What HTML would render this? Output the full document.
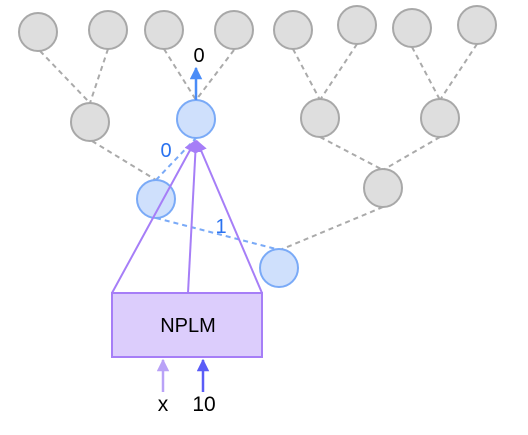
<!DOCTYPE html>
<html><head><style>body{margin:0;background:#fff}</style></head><body>
<svg width="528" height="430" xmlns="http://www.w3.org/2000/svg" font-family="Liberation Sans, sans-serif">
<defs>
<marker id="ab" viewBox="0 0 10 10" refX="9" refY="5" markerWidth="5" markerHeight="5" orient="auto"><path d="M0,0L10,5L0,10z" fill="#4a8cf7"/></marker>
<marker id="ap" viewBox="0 0 10 10" refX="9" refY="5" markerWidth="6" markerHeight="6" orient="auto"><path d="M0,0L10,5L0,10z" fill="#a67ef7"/></marker>
<marker id="al" viewBox="0 0 10 10" refX="9" refY="5" markerWidth="5" markerHeight="5" orient="auto"><path d="M0,0L10,5L0,10z" fill="#b9a2f7"/></marker>
<marker id="ad" viewBox="0 0 10 10" refX="9" refY="5" markerWidth="5" markerHeight="5" orient="auto"><path d="M0,0L10,5L0,10z" fill="#5a5cf7"/></marker>
</defs>
<g stroke="#aaa" stroke-width="2" stroke-dasharray="5,4" fill="none">
<line x1="40" y1="51" x2="90" y2="103"/><line x1="108" y1="49" x2="90" y2="103"/>
<line x1="164" y1="49" x2="196" y2="100"/><line x1="234" y1="50" x2="196" y2="100"/>
<line x1="293" y1="49" x2="320" y2="100"/><line x1="357" y1="44" x2="320" y2="100"/>
<line x1="412" y1="47" x2="440" y2="100"/><line x1="477" y1="44" x2="440" y2="100"/>
<line x1="92" y1="141" x2="156" y2="180"/>
<line x1="320" y1="137" x2="383" y2="170"/><line x1="440" y1="137" x2="383" y2="170"/>
<line x1="383" y1="207" x2="280" y2="250"/>
</g>
<g stroke="#7aaaf7" stroke-width="2" stroke-dasharray="5,4" fill="none">
<line x1="156" y1="180" x2="196" y2="138"/>
<line x1="156" y1="218" x2="280" y2="250"/>
</g>
<g fill="#dedede" stroke="#a8a8a8" stroke-width="2">
<circle cx="38" cy="32" r="19"/><circle cx="108" cy="30" r="19"/><circle cx="164" cy="30" r="19"/><circle cx="234" cy="30" r="19"/>
<circle cx="293" cy="30" r="19"/><circle cx="357" cy="25" r="19"/><circle cx="412" cy="28" r="19"/><circle cx="477" cy="25" r="19"/>
<circle cx="90" cy="122" r="19"/><circle cx="320" cy="118" r="19"/><circle cx="440" cy="118" r="19"/><circle cx="383" cy="188" r="19"/>
</g>
<g fill="#cfe0fc" stroke="#7aaaf7" stroke-width="2">
<circle cx="196" cy="119" r="19"/><circle cx="156" cy="199" r="19"/><circle cx="279" cy="268" r="19"/>
</g>
<g stroke="#a67ef7" stroke-width="2" fill="none">
<line x1="112" y1="293" x2="195" y2="141" marker-end="url(#ap)"/>
<line x1="188" y1="293" x2="196" y2="141" marker-end="url(#ap)"/>
<line x1="262" y1="293" x2="197" y2="141" marker-end="url(#ap)"/>
</g>
<rect x="112" y="293" width="150" height="64" fill="#dccdfc" stroke="#a67ef7" stroke-width="2"/>
<text x="188" y="332" style="font-size:20px" text-anchor="middle">NPLM</text>
<line x1="196" y1="100" x2="196" y2="68" stroke="#4a8cf7" stroke-width="2.5" marker-end="url(#ab)"/>
<text x="199" y="62" style="font-size:20px" text-anchor="middle">0</text>
<text x="166" y="157" style="font-size:20px" fill="#2a72f0" text-anchor="middle">0</text>
<text x="221" y="233" style="font-size:20px" fill="#2a72f0" text-anchor="middle">1</text>
<line x1="163" y1="392" x2="163" y2="360" stroke="#b9a2f7" stroke-width="2.5" marker-end="url(#al)"/>
<line x1="203" y1="392" x2="203" y2="360" stroke="#5a5cf7" stroke-width="2.5" marker-end="url(#ad)"/>
<text x="163" y="411" style="font-size:21px" text-anchor="middle">x</text>
<text x="204" y="411" style="font-size:21px" text-anchor="middle">10</text>
</svg>
</body></html>
